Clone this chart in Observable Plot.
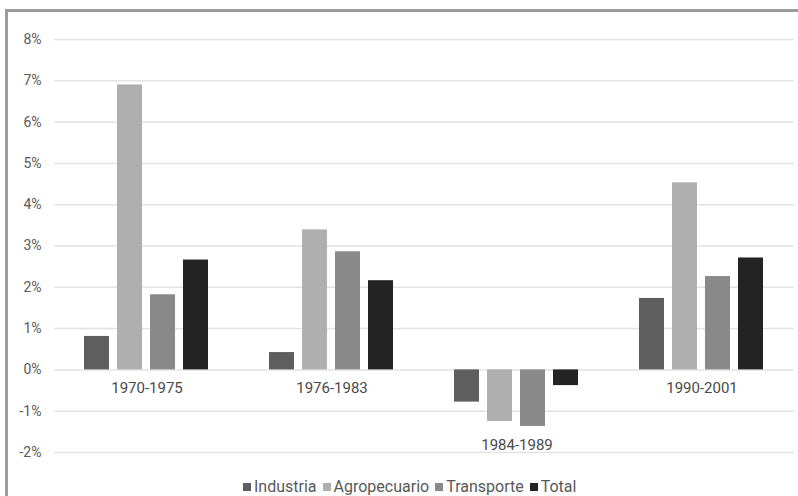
<!DOCTYPE html>
<html>
<head>
<meta charset="utf-8">
<script src="https://cdn.jsdelivr.net/npm/d3@7"></script>
<script src="https://cdn.jsdelivr.net/npm/@observablehq/plot@0.6"></script>
<style>
  html, body { margin: 0; padding: 0; background: #fff; width: 798px; height: 496px; overflow: hidden; }
  #wrap { position: relative; width: 798px; height: 496px; font-family: Roboto, "Noto Sans", sans-serif; }
  #frame { position: absolute; left: 5px; top: 9px; width: 900px; height: 600px;
           border-left: 3px solid #9c9c9c; border-top: 3px solid #9c9c9c; box-sizing: border-box; }
  #chart { position: absolute; left: 0; top: 0; }
  #legend { position: absolute; top: 478px; left: 243px; display: flex; align-items: center;
            font-size: 16px; line-height: 18px; color: #595959; white-space: nowrap; }
  #legend .item { display: flex; align-items: center; margin-right: 6px; }
  #legend .sw { display: inline-block; width: 8px; height: 8px; margin-right: 3px; }
</style>
</head>
<body>
<div id="wrap">
  <div id="chart"></div>
  <div id="frame"></div>
  <div id="legend"></div>
</div>
<script>
const periods = ["1970-1975", "1976-1983", "1984-1989", "1990-2001"];
const sectors = ["Industria", "Agropecuario", "Transporte", "Total"];
const industria = [0.81, 0.42, -0.78, 1.73];
const agropecuario = [6.90, 3.39, -1.25, 4.53];
const transporte = [1.82, 2.86, -1.37, 2.26];
const total = [2.66, 2.16, -0.38, 2.71];
const colors = ["#5e5e5e", "#afafaf", "#898989", "#232323"];
const yTicks = [-2, -1, 0, 1, 2, 3, 4, 5, 6, 7, 8];

const series = [industria, agropecuario, transporte, total];
const data = [];
periods.forEach((p, i) => {
  sectors.forEach((s, j) => data.push({period: p, sector: s, value: series[j][i]}));
});
const labels = periods.map((p, i) => ({
  period: p,
  y: Math.min(0, ...series.map(s => s[i])) - 0.45
}));

const chart = Plot.plot({
  width: 798,
  height: 470,
  marginLeft: 52,
  marginRight: 3,
  marginTop: 39,
  marginBottom: 18,
  style: {fontFamily: "Roboto, sans-serif", fontSize: "14px", color: "#595959", background: "transparent"},
  fx: {domain: periods, padding: 0, axis: null, label: null},
  x: {domain: sectors, paddingInner: 0.235, paddingOuter: 0.857, axis: null, label: null},
  y: {domain: [-2, 8], ticks: yTicks, tickFormat: d => d + "%", tickSize: 0, tickPadding: 13, label: null},
  color: {domain: sectors, range: colors},
  marks: [
    Plot.ruleY(yTicks, {y: d => d, stroke: "#e3e3e3", strokeWidth: 1.5}),
    Plot.barY(data, {fx: "period", x: "sector", y: "value", fill: "sector"}),
    Plot.text(labels, {fx: "period", y: "y", text: "period", frameAnchor: "middle",
      fontSize: 15, fill: "#4a4a4a"})
  ]
});
document.getElementById("chart").appendChild(chart);

const legend = document.getElementById("legend");
sectors.forEach((s, j) => {
  const item = document.createElement("span");
  item.className = "item";
  const sw = document.createElement("span");
  sw.className = "sw";
  sw.style.background = colors[j];
  item.appendChild(sw);
  item.appendChild(document.createTextNode(s));
  legend.appendChild(item);
});
</script>
</body>
</html>
